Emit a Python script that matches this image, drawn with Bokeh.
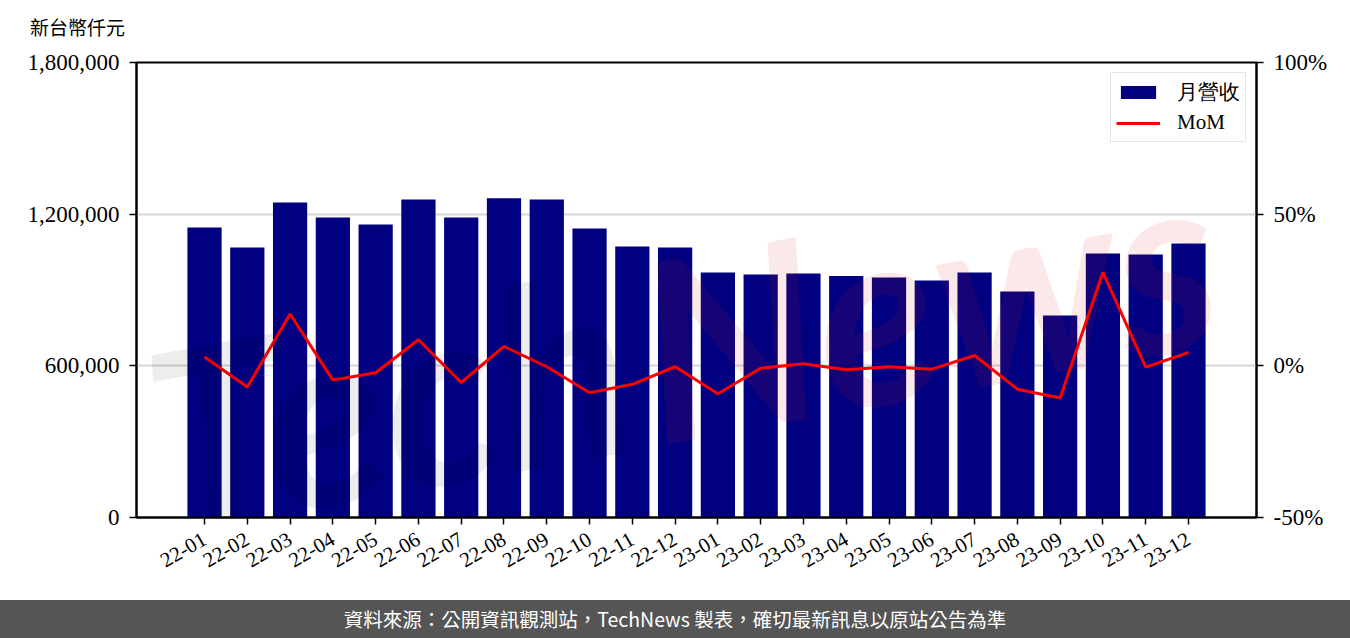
import math
from bokeh.plotting import figure
from bokeh.models import (Range1d, LinearAxis, FixedTicker, NumeralTickFormatter,
                          PrintfTickFormatter, Legend, LegendItem, Label, Div,
                          ColumnDataSource)
from bokeh.layouts import column
from bokeh.embed import file_html
from bokeh.resources import INLINE

# ---- data ----
months = ["22-01", "22-02", "22-03", "22-04", "22-05", "22-06", "22-07", "22-08",
          "22-09", "22-10", "22-11", "22-12", "23-01", "23-02", "23-03", "23-04",
          "23-05", "23-06", "23-07", "23-08", "23-09", "23-10", "23-11", "23-12"]
revenue = [1147000, 1068000, 1246000, 1187000, 1159000, 1258000, 1187000, 1263000,
           1258000, 1143000, 1072000, 1068000, 969000, 961000, 965000, 955000,
           949000, 938000, 969000, 894000, 799000, 1044000, 1040000, 1084000]
mom = [2.9, -7.0, 17.1, -4.7, -2.3, 8.6, -5.5, 6.4, -0.3, -8.9, -6.1, -0.3,
       -9.2, -0.8, 0.7, -1.3, -0.3, -1.1, 3.4, -7.7, -10.6, 30.8, -0.4, 4.4]
left_ticks = [0, 600000, 1200000, 1800000]
right_ticks = [-50, 0, 50, 100]
unit_label = "新台幣仟元"
bar_name = "月營收"
line_name = "MoM"
footer_text = "資料來源：公開資訊觀測站，TechNews 製表，確切最新訊息以原站公告為準"

idx = list(range(len(months)))
src = ColumnDataSource(dict(x=idx, rev=revenue, mom=mom, m=months))

n = len(months)
bar_w = 0.8
pad = (n - 1 + bar_w) * 0.05

SERIF = "Liberation Serif"
W = 1350

header = Div(text='<div style="padding:13px 0 0 30px;line-height:28px;">'
             + unit_label + '</div>',
             width=W, height=40, margin=0,
             styles={"color": "black", "font-family": "Noto Sans CJK TC",
                     "font-size": "19px", "overflow": "hidden"})

p = figure(width=W, height=560, output_backend="svg", toolbar_location=None,
           x_range=Range1d(-bar_w / 2 - pad, n - 1 + bar_w / 2 + pad),
           y_range=Range1d(left_ticks[0], left_ticks[-1]),
           min_border_left=136, min_border_right=94, min_border_top=22,
           min_border_bottom=83)
p.extra_y_ranges = {"pct": Range1d(right_ticks[0], right_ticks[-1])}
p.background_fill_color = "white"
p.border_fill_color = "white"
p.outline_line_color = "black"
p.outline_line_width = 2

bars = p.vbar(x="x", top="rev", width=bar_w, source=src,
              fill_color="#000080", line_color=None)
line = p.line(x="x", y="mom", source=src, line_color="red", line_width=3,
              y_range_name="pct")

# axes
p.yaxis.ticker = FixedTicker(ticks=left_ticks)
p.yaxis.formatter = NumeralTickFormatter(format="0,0")
p.xaxis.ticker = FixedTicker(ticks=idx)
p.xaxis.major_label_overrides = {i: m for i, m in zip(idx, months)}
p.xaxis.major_label_orientation = math.pi / 6

rax = LinearAxis(y_range_name="pct", ticker=FixedTicker(ticks=right_ticks),
                 formatter=PrintfTickFormatter(format="%d%%"))
p.add_layout(rax, "right")

for ax in [p.xaxis[0], p.yaxis[0], rax]:
    ax.axis_line_color = "black"
    ax.axis_line_width = 2
    ax.major_tick_in = 0
    ax.major_tick_out = 7
    ax.major_tick_line_width = 1.5
    ax.major_tick_line_color = "black"
    ax.minor_tick_line_color = None
    ax.major_label_text_font = SERIF
    ax.major_label_text_font_size = "23px"
    ax.major_label_text_color = "black"
    ax.major_label_standoff = 10
p.xaxis.major_label_text_font_size = "21px"
p.xaxis.major_label_standoff = 13

p.xgrid.grid_line_color = None
p.ygrid.ticker = FixedTicker(ticks=left_ticks)
p.ygrid.grid_line_color = "#d6d6d6"
p.ygrid.grid_line_width = 2

# watermark
p.add_layout(Label(x=14, y=77, x_units="screen", y_units="screen", text="Tech",
                   angle=0.18, text_font="Lato", text_font_style="bold italic",
                   text_font_size="250px", text_color="black", text_alpha=0.07,
                   text_baseline="alphabetic"))
p.add_layout(Label(x=504, y=167, x_units="screen", y_units="screen", text="News",
                   angle=0.18, text_font="Lato", text_font_style="bold italic",
                   text_font_size="250px", text_color="#d42020", text_alpha=0.1,
                   text_baseline="alphabetic"))

legend = Legend(items=[LegendItem(label=bar_name, renderers=[bars]),
                       LegendItem(label=line_name, renderers=[line])],
                location="top_right")
legend.label_text_font = SERIF
legend.label_text_font_size = "21px"
legend.label_text_color = "black"
legend.glyph_width = 44
legend.glyph_height = 16
legend.label_standoff = 17
legend.padding = 5
legend.spacing = 3
legend.label_height = 27
legend.margin = 10
legend.border_line_color = "#cccccc"
legend.border_line_width = 1.5
legend.background_fill_alpha = 0.85
p.add_layout(legend)

footer = Div(text='<span lang="zh-Hant">' + footer_text + '</span>',
             width=W, height=38, margin=0,
             styles={"background-color": "#555555", "color": "white",
                     "font-family": "Noto Sans CJK TC", "font-size": "19.5px",
                     "text-align": "center", "line-height": "38px",
                     "overflow": "hidden"})

layout = column(header, p, footer, spacing=0)
open("out.html", "w").write(file_html(layout, INLINE))
